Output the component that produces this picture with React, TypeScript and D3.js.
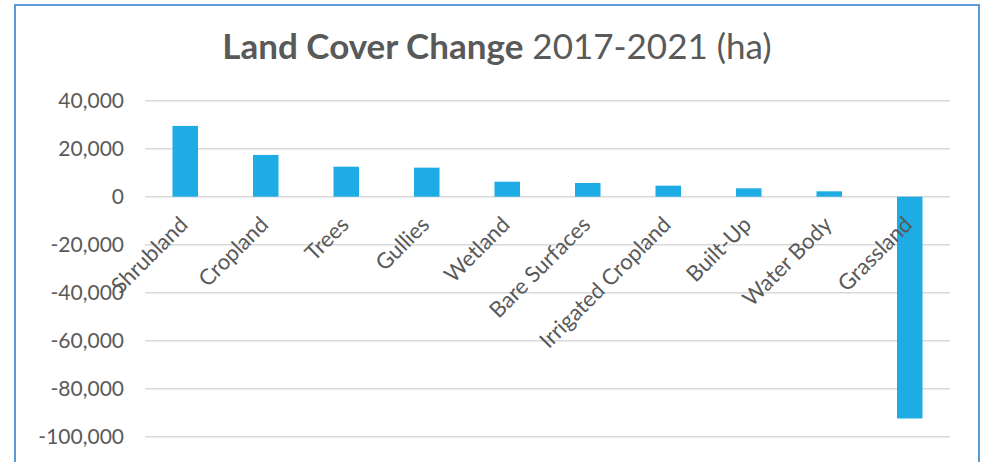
import React from "react";
import * as d3 from "d3";

const categories = [
  "Shrubland",
  "Cropland",
  "Trees",
  "Gullies",
  "Wetland",
  "Bare Surfaces",
  "Irrigated Cropland",
  "Built-Up",
  "Water Body",
  "Grassland",
];
const values = [29500, 17400, 12500, 12100, 6250, 5700, 4600, 3500, 2250, -92400];
const yTicks = [40000, 20000, 0, -20000, -40000, -60000, -80000, -100000];
const titleBold = "Land Cover Change";
const titleRest = " 2017-2021 (ha)";

const W = 994;
const H = 462;
const FONT = "Lato, 'Noto Sans', sans-serif";
const TEXT = "#595959";

const locale = d3.formatLocale({
  decimal: ".",
  thousands: ",",
  grouping: [3],
  currency: ["", ""],
  minus: "-",
});

export default function App() {
  const x = d3
    .scaleBand<string>()
    .domain(categories)
    .range([145, 950])
    .paddingInner(0.683)
    .paddingOuter(0.3415);
  const y = d3.scaleLinear().domain([-100000, 40000]).range([436.7, 100.7]);
  const fmt = locale.format(",");
  const data = categories.map((c, i) => ({ c, v: values[i] }));

  return (
    <svg
      width={W}
      height={H}
      style={{ position: "absolute", left: 0, top: 0, background: "#fff" }}
      fontFamily={FONT}
    >
      <rect x={0} y={0} width={W} height={H} fill="#fff" />
      <rect x={15} y={5} width={964} height={520} fill="#fff" stroke="#5B9BD5" strokeWidth={2} />
      <text x={497} y={59} textAnchor="middle" fontSize={35} fill={TEXT}>
        <tspan fontWeight="bold">{titleBold}</tspan>
        <tspan>{titleRest}</tspan>
      </text>
      {yTicks.map((t) => (
        <g key={t}>
          <line x1={145} x2={950} y1={y(t)} y2={y(t)} stroke="#D9D9D9" strokeWidth={1.5} />
          <text x={124} y={y(t)} dy="0.36em" textAnchor="end" fontSize={21} fill={TEXT}>
            {fmt(t)}
          </text>
        </g>
      ))}
      {data.map((d) => (
        <rect
          key={d.c}
          x={x(d.c)}
          width={x.bandwidth()}
          y={y(Math.max(0, d.v))}
          height={Math.abs(y(d.v) - y(0))}
          fill="#1EACE4"
        />
      ))}
      {categories.map((c) => {
        const cx = (x(c) as number) + x.bandwidth() / 2;
        return (
          <text
            key={c}
            transform={`translate(${cx + 4},${226}) rotate(-45)`}
            textAnchor="end"
            fontSize={22}
            fill={TEXT}
          >
            {c}
          </text>
        );
      })}
    </svg>
  );
}
